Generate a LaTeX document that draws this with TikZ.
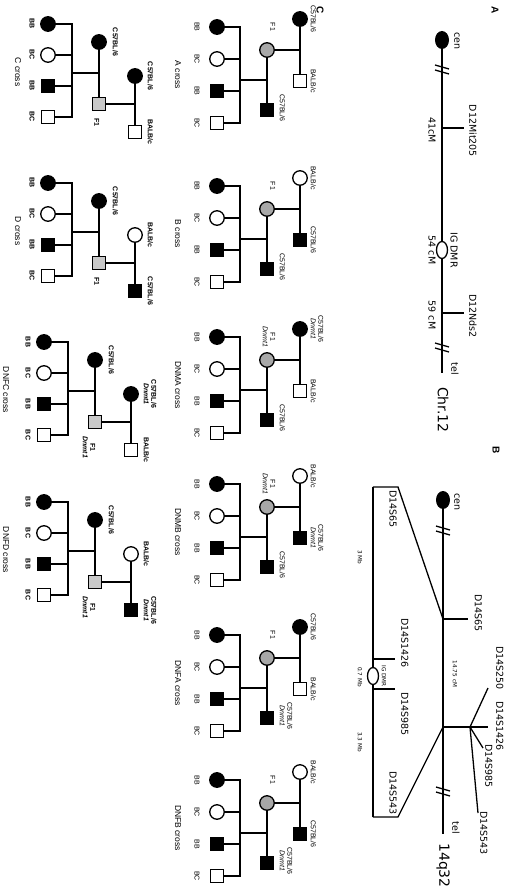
\documentclass[tikz,border=0pt]{standalone}
\usepackage{fontspec}
\setmainfont{Liberation Sans}
\newfontfamily\mapfont{DejaVu Sans}
\usetikzlibrary{shapes.geometric}

\definecolor{fonegrey}{gray}{0.66}
\definecolor{ftwogrey}{gray}{0.79}

% chromosome break mark "//"
\newcommand{\brk}[2]{%
  \draw[chrom] ({#1-5},{#2-7}) -- ({#1-1},{#2+7});
  \draw[chrom] ({#1},{#2-7}) -- ({#1+4},{#2+7});
}

% upper row cross: #1 first child, #2 name, #3/#4 dam fill/label,
% #5/#6 sire fill/label, #7 F1 label, #8 mate label, #9 cross
\newcommand{\upcross}[9]{%
  \node[fem, fill=#3] (#2g1) at ({#1-8},-205) {};
  \node[mal, fill=#5] (#2g2) at ({#1+54},-205) {};
  \node[fem, fill=fonegrey] (#2f) at ({#1+23},-238) {};
  \node[mal, fill=black] (#2m) at ({#1+83},-238) {};
  \node[fem, fill=black] (#2c0) at (#1,-288) {};
  \node[fem, fill=white] (#2c1) at ({#1+32},-288) {};
  \node[mal, fill=black] (#2c2) at ({#1+64},-288) {};
  \node[mal, fill=white] (#2c3) at ({#1+96},-288) {};
  \coordinate (#2gm) at ({#1+23},-205);
  \coordinate (#2fm) at ({#1+53},-238);
  \coordinate (#2sm) at ({#1+53},-265);
  \draw[ped] (#2g1) -- (#2g2);
  \draw[ped] (#2gm) -- (#2f);
  \draw[ped] (#2f) -- (#2m);
  \draw[ped] (#2fm) -- (#2sm);
  \foreach \k/\lb in {0/BB,1/BC,2/BB,3/BC} {
    \coordinate (#2s\k) at ({#1+32*\k},-265);
    \draw[ped] (#2s\k) -- (#2c\k);
    \node[plab] at ({#1+32*\k},-308) {\lb};
  }
  \draw[ped] (#2s0) -- (#2s3);
  \node[plab, anchor=south] at ({#1-8},-194.5) {#4};
  \node[plab, anchor=south] at ({#1+54},-194.5) {#6};
  \node[plab, anchor=north] at (#1,-229.5) {#7};
  \node[plab, anchor=south] at ({#1+81},-225.5) {#8};
  \node[xlab] at ({#1+48},-327) {#9 cross};
}

% lower row cross: #1 first child, #2 name, #3/#4 dam fill/label,
% #5/#6 sire fill/label, #7 F1 label, #8 cross, #9 shift down
\newcommand{\lowcross}[9]{%
  \node[fem, fill=#3] (#2g1) at ({#1+52},{-370-#9}) {};
  \node[mal, fill=#5] (#2g2) at ({#1+108},{-370-#9}) {};
  \node[fem, fill=black] (#2m) at ({#1+18},{-406-#9}) {};
  \node[mal, fill=ftwogrey] (#2f) at ({#1+80},{-406-#9}) {};
  \node[fem, fill=black] (#2c0) at (#1,{-457-#9}) {};
  \node[fem, fill=white] (#2c1) at ({#1+31},{-457-#9}) {};
  \node[mal, fill=black] (#2c2) at ({#1+62},{-457-#9}) {};
  \node[mal, fill=white] (#2c3) at ({#1+93},{-457-#9}) {};
  \coordinate (#2gm) at ({#1+80},{-370-#9});
  \coordinate (#2fm) at ({#1+49},{-406-#9});
  \coordinate (#2sm) at ({#1+49},{-433-#9});
  \draw[ped] (#2g1) -- (#2g2);
  \draw[ped] (#2gm) -- (#2f);
  \draw[ped] (#2m) -- (#2f);
  \draw[ped] (#2fm) -- (#2sm);
  \foreach \k/\lb in {0/BB,1/BC,2/BB,3/BC} {
    \coordinate (#2s\k) at ({#1+31*\k},{-433-#9});
    \draw[ped] (#2s\k) -- (#2c\k);
    \node[blab] at ({#1+31*\k},{-473-#9}) {\lb};
  }
  \draw[ped] (#2s0) -- (#2s3);
  \node[blab, anchor=south] at ({#1+52},{-357.5-#9}) {#4};
  \node[blab, anchor=south] at ({#1+108},{-357.5-#9}) {#6};
  \node[blab, anchor=south] at ({#1+18},{-392.5-#9}) {C57BL/6};
  \node[blab, anchor=north west] at ({#1+94},{-405.5-#9}) {#7};
  \node[xlab] at ({#1+48},{-487-3*#9}) {#8 cross};
}

\begin{document}
\begin{tikzpicture}[x=1pt, y=1pt, rotate=-90,
  every node/.append style={transform shape},
  chrom/.style={line width=1.3pt},
  ped/.style={line width=1.3pt, line cap=rect},
  fem/.style={circle, draw, line width=1.3pt, minimum size=14.5pt, inner sep=0pt},
  mal/.style={rectangle, draw, line width=1.3pt, minimum size=13pt, inner sep=0pt},
  cenmark/.style={ellipse, fill=black, minimum width=18pt, minimum height=14pt, inner sep=0pt},
  dmr/.style={ellipse, draw, fill=white, line width=1.3pt, minimum width=17pt, minimum height=11pt, inner sep=0pt},
  plab/.style={font=\fontsize{7}{7.5}\selectfont, inner sep=0pt, align=center},
  blab/.style={font=\fontsize{7}{7.5}\selectfont\bfseries, inner sep=0pt, align=center},
  xlab/.style={font=\fontsize{8.5}{9}\selectfont, inner sep=0pt},
  mlab/.style={font=\mapfont\fontsize{9.5}{10}\selectfont, inner sep=0pt},
  slab/.style={font=\mapfont\fontsize{5.7}{6}\selectfont, inner sep=0pt},
  big/.style={font=\mapfont\fontsize{14}{14}\selectfont, inner sep=0pt},
  panel/.style={font=\fontsize{10}{10}\selectfont\bfseries, inner sep=0pt},
]
  \useasboundingbox (0,0) rectangle (893,-505);

  % A: chromosome 12
  \node[panel] (pa) at (10,-10) {A};
  \node[cenmark] (acen) at (40,-63) {};
  \node[dmr] (admr) at (250,-63) {};
  \coordinate (atel) at (373,-63);
  \coordinate (amit) at (128,-63);
  \coordinate (amitt) at (128,-41);
  \coordinate (ands) at (313,-63);
  \coordinate (andst) at (313,-41);
  \draw[chrom] (acen) -- (admr);
  \draw[chrom] (admr) -- (atel);
  \draw[chrom] (amit) -- (amitt);
  \draw[chrom] (ands) -- (andst);
  \brk{70}{-63}
  \brk{348}{-63}
  \node[mlab] at (41,-48) {cen};
  \node[mlab, anchor=south] at (131,-36) {D12Mit205};
  \node[mlab] at (130,-73) {41cM};
  \node[mlab] at (250,-51) {IG DMR};
  \node[mlab] at (250,-73) {54 cM};
  \node[mlab, anchor=south] at (316,-36) {D12Nds2};
  \node[mlab] at (315,-73) {59 cM};
  \node[mlab] at (369,-50) {tel};
  \node[big, anchor=west] at (387,-62) {Chr.12};

  % B: 14q32
  \node[panel] (pb) at (450,-9) {B};
  \node[cenmark] (bcen) at (500,-62) {};
  \coordinate (btel) at (834,-62);
  \coordinate (bj1) at (619,-62);
  \coordinate (bj2) at (727,-62);
  \draw[chrom] (bcen) -- (btel);
  \brk{531}{-62}
  \brk{792}{-62}
  \coordinate (bj1t) at (619,-37);
  \draw[chrom] (bj1) -- (bj1t);
  % marker fan
  \coordinate (bfan) at (727,-35);
  \coordinate (bf250) at (688,-17);
  \coordinate (bf1426) at (727,-17);
  \coordinate (bf985) at (748,-22);
  \coordinate (bf543) at (813,-27);
  \draw[chrom] (bj2) -- (bfan);
  \foreach \m in {bf250,bf1426,bf985,bf543}
    \draw[chrom] (bfan) -- (\m);
  % expanded interval
  \node[dmr] (bdmr) at (676,-132) {};
  \coordinate (bl0) at (487,-132);
  \coordinate (bl1) at (817,-132);
  \coordinate (bc0) at (487,-107);
  \coordinate (bc1) at (817,-107);
  \coordinate (bt1) at (659,-132);
  \coordinate (bt1t) at (659,-110);
  \coordinate (bt2) at (689,-132);
  \coordinate (bt2t) at (689,-110);
  \draw[chrom] (bl0) -- (bdmr);
  \draw[chrom] (bdmr) -- (bl1);
  \draw[chrom] (bl0) -- (bc0) -- (bj1);
  \draw[chrom] (bl1) -- (bc1) -- (bj2);
  \draw[chrom] (bt1) -- (bt1t);
  \draw[chrom] (bt2) -- (bt2t);
  \node[mlab] at (502,-48) {cen};
  \node[mlab, anchor=south] at (613,-30.5) {D14S65};
  \node[mlab, anchor=south east] at (690,-9) {D14S250};
  \node[mlab, anchor=south] at (726,-9) {D14S1426};
  \node[mlab, anchor=south west] at (744,-20) {D14S985};
  \node[mlab, anchor=south west] at (811,-25) {D14S543};
  \node[slab] at (674,-50) {14.75 cM};
  \node[mlab] at (828,-49) {tel};
  \node[big, anchor=west] at (843,-62) {14q32};
  \node[mlab, anchor=north west] at (490,-108) {D14S65};
  \node[mlab, anchor=south] at (643,-104) {D14S1426};
  \node[mlab, anchor=south] at (714,-104) {D14S985};
  \node[mlab, anchor=north east] at (815,-108) {D14S543};
  \node[slab] at (676,-121) {IG DMR};
  \node[slab] at (557,-145) {3 Mb};
  \node[slab] at (677,-145) {0.7 Mb};
  \node[slab] at (742,-145) {3.3 Mb};

  % C: crosses
  \node[panel] (pc) at (10,-185) {C};
  \upcross{27}{xa}{black}{C57BL/6}{white}{BALB/c}{F1}{C57BL/6}{A}
  \upcross{186}{xb}{white}{BALB/c}{black}{C57BL/6}{F1}{C57BL/6}{B}
  \upcross{337}{xma}{black}{C57BL/6\\\textit{Dnmt1}}{white}{BALB/c}{F1\\\textit{Dnmt1}}{C57BL/6}{DNMA}
  \upcross{484}{xmb}{white}{BALB/c}{black}{C57BL/6\\\textit{Dnmt1}}{F1\\\textit{Dnmt1}}{C57BL/6}{DNMB}
  \upcross{635}{xfa}{black}{C57BL/6}{white}{BALB/c}{F1}{C57BL/6\\\textit{Dnmt1}}{DNFA}
  \upcross{780}{xfb}{white}{BALB/c}{black}{C57BL/6}{F1}{C57BL/6\\\textit{Dnmt1}}{DNFB}
  \lowcross{24}{xc}{black}{C57BL/6}{white}{BALB/c}{F1}{C}{0}
  \lowcross{183}{xd}{white}{BALB/c}{black}{C57BL/6}{F1}{D}{0}
  \lowcross{342}{xfc}{black}{C57BL/6\\\textit{Dnmt1}}{white}{BALB/c}{F1\\\textit{Dnmt1}}{DNFC}{4}
  \lowcross{502}{xfd}{white}{BALB/c}{black}{C57BL/6\\\textit{Dnmt1}}{F1\\\textit{Dnmt1}}{DNFD}{4}
\end{tikzpicture}
\end{document}
